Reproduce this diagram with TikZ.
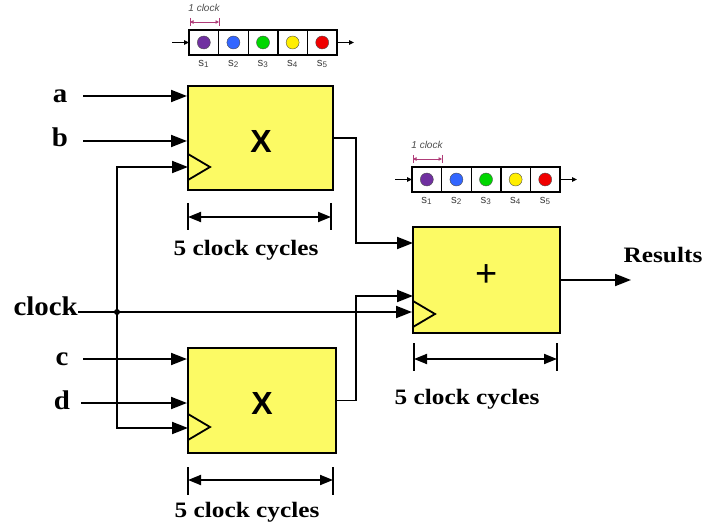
\documentclass[tikz,border=0pt]{standalone}
\usepackage{fontspec}
\setmainfont{Liberation Serif}
\setsansfont{Liberation Sans}
\usetikzlibrary{arrows.meta,calc}
\definecolor{blkfill}{RGB}{252,250,100}
\definecolor{cpurple}{RGB}{112,48,160}
\definecolor{cblue}{RGB}{51,102,255}
\definecolor{cgreen}{RGB}{0,215,0}
\definecolor{cyellow}{RGB}{255,238,0}
\definecolor{cred}{RGB}{240,0,0}
\definecolor{dimpink}{RGB}{175,60,120}
\newcommand\widetxt[1]{\scalebox{1.15}[1]{#1}}
\newcommand\inlbl[1]{\scalebox{1.07}[1]{#1}}
\tikzset{
  blk/.style={draw=black, line width=2pt, fill=blkfill, inner sep=0pt},
  arr/.style={line width=1.9pt, -{Triangle[length=16pt,width=12pt]}},
  dimline/.style={line width=1.9pt, {Triangle[length=13pt,width=10pt]}-{Triangle[length=13pt,width=10pt]}},
  tick/.style={line width=2pt},
  lbl/.style={font=\fontsize{22}{24}\selectfont\bfseries, inner sep=0pt},
  inl/.style={font=\fontsize{27}{29}\selectfont\bfseries, inner sep=0pt},
  opx/.style={font=\sffamily\bfseries\fontsize{32}{34}\selectfont, inner sep=0pt},
  clk/.style={line width=1.9pt},
  cell/.style={draw=black, line width=1.4pt},
  dot/.style={draw=black!70, line width=0.4pt},
  slbl/.style={font=\sffamily\fontsize{11.5}{12}\selectfont, text=black!75, inner sep=0pt},
  onecl/.style={font=\sffamily\itshape\fontsize{10}{10}\selectfont, text=black!70, inner sep=0pt},
}
\newcommand\pipelinedraw{%
  \foreach \i/\c in {0/cpurple,1/cblue,2/cgreen,3/cyellow,4/cred}{
    \draw[cell] (\i*29.6,0) rectangle ++(29.6,25);
    \fill[\c, dot] (\i*29.6+14.8,12.5) circle (6.5pt);
    \pgfmathtruncatemacro\k{\i+1}
    \node[slbl] at (\i*29.6+14.8,34) {s\textsubscript{\k}};
  }
  \draw[line width=1.1pt, -{Triangle[length=5pt,width=4.5pt]}] (-17,12.5) -- (0,12.5);
  \draw[line width=1.1pt, -{Triangle[length=5pt,width=4.5pt]}] (148,12.5) -- (165,12.5);
  \draw[dimpink, line width=0.8pt, {Triangle[length=3.5pt,width=3.5pt]}-{Triangle[length=3.5pt,width=3.5pt]}] (1,-8) -- (30,-8);
  \draw[dimpink, line width=0.8pt] (1,-12) -- (1,-4) (30,-12) -- (30,-4);
  \node[onecl] at (15,-22) {1 clock};
}
\begin{document}
\begin{tikzpicture}[x=1pt,y=-1pt]
\useasboundingbox (0,0) rectangle (703,529);
% blocks
\node[blk, minimum width=145pt, minimum height=104pt] (m1) at (260.5,138) {};
\node[blk, minimum width=148pt, minimum height=105pt] (m2) at (262,400.5) {};
\node[blk, minimum width=147pt, minimum height=106pt] (add) at (486.5,280) {};
\node[opx] (x1) at (261,141) {X};
\node[opx] (x2) at (262,403) {X};
\node[font=\sffamily\fontsize{38}{40}\selectfont, inner sep=0pt] (plus) at (487,276) {+};
% clock triangles
\draw[line width=1.8pt] (188,154) -- (210,167) -- (188,180);
\draw[line width=1.8pt] (188,414) -- (210,427) -- (188,440);
\draw[line width=1.8pt] (413,301) -- (435,314) -- (413,327);
% input labels
\node[inl] (la) at (60,96) {\inlbl{a}};
\node[inl] (lb) at (60,137) {\inlbl{b}};
\node[inl] (lc) at (62,359) {\inlbl{c}};
\node[inl] (ld) at (62,400) {\inlbl{d}};
\node[inl, anchor=east] (lclk) at (78,306) {\inlbl{clock}};
\coordinate (ia) at (83,96);
\coordinate (ib) at (83,141);
\coordinate (ic) at (83,359);
\coordinate (id) at (81,403);
\draw[arr] (ia) -- (ia -| m1.west);
\draw[arr] (ib) -- (ib -| m1.west);
\draw[arr] (ic) -- (ic -| m2.west);
\draw[arr] (id) -- (id -| m2.west);
% clock distribution
\coordinate (j) at (117,312);
\coordinate (c1) at (188,167);
\coordinate (c2) at (188,428);
\draw[clk] (78,312) -- (j);
\draw[arr] (j) -- (j -| add.west);
\draw[arr] (j) |- (c1);
\draw[arr] (j) |- (c2);
\fill (j) circle (3pt);
% outputs to adder
\coordinate (a1) at (413,243);
\coordinate (a2) at (413,296);
\draw[arr] (m1.east |- 0,138) -- (356,138) -- (356,243) -- (a1);
\draw[arr] (m2.east) -- (356,400.5) -- (356,296) -- (a2);
\coordinate (res) at (631,280);
\draw[arr] (add.east) -- (res);
\node[lbl] (lres) at (663,255) {\widetxt{Results}};
% dimension bars
\draw[tick] (188,203) -- (188,230) (331,203) -- (331,230);
\draw[dimline] (188,217) -- (331,217);
\node[lbl] (d1) at (246,250) {\widetxt{5 clock cycles}};
\draw[tick] (188,467) -- (188,495) (333,467) -- (333,495);
\draw[dimline] (188,480) -- (333,480);
\node[lbl] (d2) at (247,512) {\widetxt{5 clock cycles}};
\draw[tick] (414,343) -- (414,371) (557,343) -- (557,371);
\draw[dimline] (414,359) -- (557,359);
\node[lbl] (d3) at (467,399) {\widetxt{5 clock cycles}};
% pipelines
\begin{scope}[shift={(189,30)}]
\pipelinedraw
\end{scope}
\begin{scope}[shift={(412,167)}]
\pipelinedraw
\end{scope}
\end{tikzpicture}
\end{document}
